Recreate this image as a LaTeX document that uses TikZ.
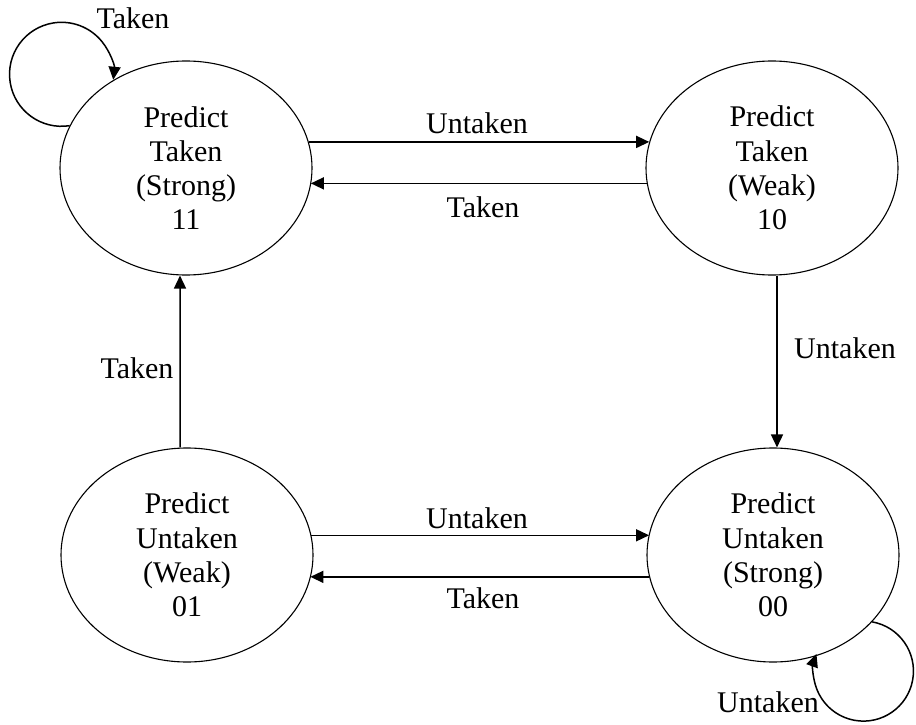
\documentclass[tikz,border=0pt]{standalone}
\usepackage{fontspec}
\setmainfont{Liberation Serif}
\usetikzlibrary{arrows.meta,shapes.geometric}
\begin{document}
\begin{tikzpicture}[x=1bp,y=-1bp,
  txt/.style={font=\fontsize{30bp}{34.2bp}\selectfont},
  state/.style={txt, draw, ellipse, line width=1.1bp, minimum width=252bp,
    minimum height=214bp, inner sep=0pt, align=center},
  lbl/.style={txt, inner sep=0pt},
  trans/.style={line width=1.5bp, -{Triangle[length=13bp,width=12bp]}}]
\useasboundingbox (0,0) rectangle (916,725);

% the four counter states
\node[state] (s11) at (186,168) {Predict\\Taken\\(Strong)\\11};
\node[state] (s10) at (772,168) {Predict\\Taken\\(Weak)\\10};
\node[state] (s01) at (187,555) {Predict\\Untaken\\(Weak)\\01};
\node[state] (s00) at (773,555) {Predict\\Untaken\\(Strong)\\00};

% horizontal transitions (kept level: x of the target border, y of the source)
\draw[trans] (s11.12) -- (s11.12 -| s10.168);
\draw[trans] (s10.187.8) -- (s10.187.8 -| s11.352.2);
\draw[trans] (s01.9.2) -- (s01.9.2 -| s00.170.8);
\draw[trans] (s00.190.6) -- (s00.190.6 -| s01.349.4);

% vertical transitions
\draw[trans] ([xshift=-7bp]s01.north) -- ([xshift=-6bp]s11.south);
\draw[trans] ([xshift=5bp]s10.south) -- ([xshift=4bp]s00.north);

% self loops
\draw[trans] (s11.160) arc[start angle=81, end angle=366, radius=52];
\draw[trans] (s00.326) arc[start angle=280, end angle=560, radius=50];

% transition labels
\node[lbl] (lt1)  at (133,18)  {Taken};
\node[lbl] (lu12) at (477,123) {Untaken};
\node[lbl] (lt21) at (483,207) {Taken};
\node[lbl] (lt31) at (137,368) {Taken};
\node[lbl] (lu24) at (845,348) {Untaken};
\node[lbl] (lu34) at (477,518) {Untaken};
\node[lbl] (lt43) at (483,598) {Taken};
\node[lbl] (lu4)  at (768,702) {Untaken};
\end{tikzpicture}
\end{document}
